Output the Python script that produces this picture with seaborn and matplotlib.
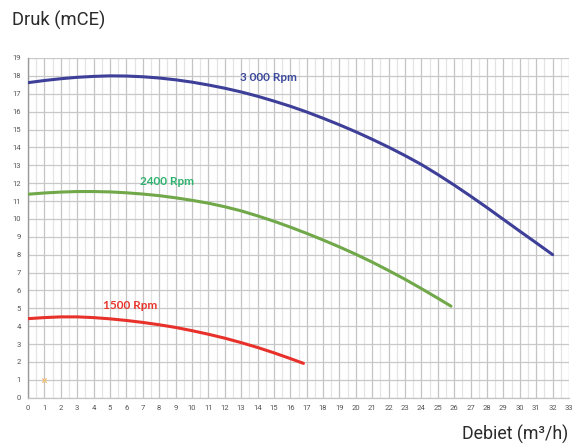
import matplotlib
matplotlib.use("Agg")
import matplotlib.pyplot as plt
import seaborn as sns
import pandas as pd
import numpy as np

# Flow (m3/h) and head (mCE)
flow_3000 = [0, 1, 2, 3, 4, 5, 6, 7, 8, 9, 10, 11, 12, 13, 14, 15, 16, 17, 18, 19, 20,
             21, 22, 23, 24, 25, 26, 27, 28, 29, 30, 31, 32]
head_3000 = [17.62, 17.74, 17.84, 17.92, 17.97, 18.0, 17.99, 17.95, 17.88, 17.78, 17.65,
             17.49, 17.31, 17.1, 16.86, 16.59, 16.3, 15.98, 15.63, 15.26, 14.87,
             14.45, 14.01, 13.54, 13.04, 12.48, 11.89, 11.27, 10.63, 9.97, 9.31, 8.66, 8.0]

flow_2400 = [0, 1, 2, 3, 4, 5, 6, 7, 8, 9, 10, 11, 12, 13, 14, 15, 16, 17, 18, 19, 20,
             21, 22, 23, 24, 25, 25.8]
head_2400 = [11.38, 11.45, 11.5, 11.53, 11.53, 11.51, 11.46, 11.39, 11.3, 11.18, 11.04,
             10.88, 10.68, 10.45, 10.17, 9.87, 9.54, 9.19, 8.82, 8.43, 8.02,
             7.58, 7.11, 6.62, 6.1, 5.56, 5.12]

flow_1500 = [0, 1, 2, 3, 4, 5, 6, 7, 8, 9, 10, 11, 12, 13, 14, 15, 16, 16.8]
head_1500 = [4.42, 4.48, 4.52, 4.52, 4.48, 4.41, 4.32, 4.21, 4.08, 3.93, 3.75,
             3.55, 3.33, 3.08, 2.81, 2.51, 2.19, 1.92]

marker_x = [1]
marker_y = [1]

series_names = ["3 000 Rpm", "2400 Rpm", "1500 Rpm"]
line_colors = ["#3d3f98", "#70a84a", "#e8312a"]
label_colors = ["#3d4a9c", "#2db36e", "#e8362c"]
label_pos = [(14.65, 17.9), (8.5, 12.1), (6.25, 5.18)]

x_ticks = list(range(0, 34))
y_ticks = list(range(0, 20))

sns.set_style("white")
plt.rcParams["font.family"] = ["Roboto", "DejaVu Sans"]

fig = plt.figure(figsize=(5.75, 4.45), dpi=100)
ax = fig.add_axes([0.0487, 0.1063, 0.9409, 0.7634])

# grid
for x in x_ticks:
    ax.axvline(x, color="#c4c4c4", lw=0.9, zorder=0)
for x in np.arange(0.5, 33, 1.0):
    ax.axvline(x, color="#e4e4e4", lw=0.9, zorder=0)
for y in y_ticks:
    ax.axhline(y, color="#c8c8c8", lw=0.9, zorder=0)

dfs = [
    pd.DataFrame({"flow": flow_3000, "head": head_3000}),
    pd.DataFrame({"flow": flow_2400, "head": head_2400}),
    pd.DataFrame({"flow": flow_1500, "head": head_1500}),
]
for df, c in zip(dfs, line_colors):
    sns.lineplot(data=df, x="flow", y="head", color=c, lw=2.2, ax=ax,
                 estimator=None, sort=False, zorder=3)

sns.scatterplot(x=marker_x, y=marker_y, marker="x", color="#f2c27f", s=10,
                linewidth=1.0, ax=ax, zorder=3)

for name, c, (lx, ly) in zip(series_names, label_colors, label_pos):
    ax.text(lx, ly, name, color=c, fontsize=8.5, fontweight="bold",
            family=["Lato", "DejaVu Sans"], ha="center", va="center", zorder=4)

ax.set_xlim(0, 33)
ax.set_ylim(0, 19)
ax.set_xticks(x_ticks)
ax.set_yticks(y_ticks)
ax.tick_params(axis="both", labelsize=5.5, labelcolor="#555555", length=3,
               color="#b0b0b0", width=0.8, pad=2)
ax.set_xlabel("")
ax.set_ylabel("")
for s in ["top", "right"]:
    ax.spines[s].set_visible(False)
ax.spines["left"].set_color("#9a9a9a")
ax.spines["bottom"].set_color("#c4c4c4")
ax.spines["left"].set_linewidth(1.0)
ax.spines["bottom"].set_linewidth(0.9)

fig.text(12 / 575, 1 - 20 / 445, "Druk (mCE)", fontsize=13.2, color="#2a2a2a",
         ha="left", va="center")
fig.text(568 / 575, 1 - 434 / 445, "Debiet (m³/h)", fontsize=12.8, color="#2a2a2a",
         ha="right", va="center")

fig.savefig("out.png", dpi=100)
